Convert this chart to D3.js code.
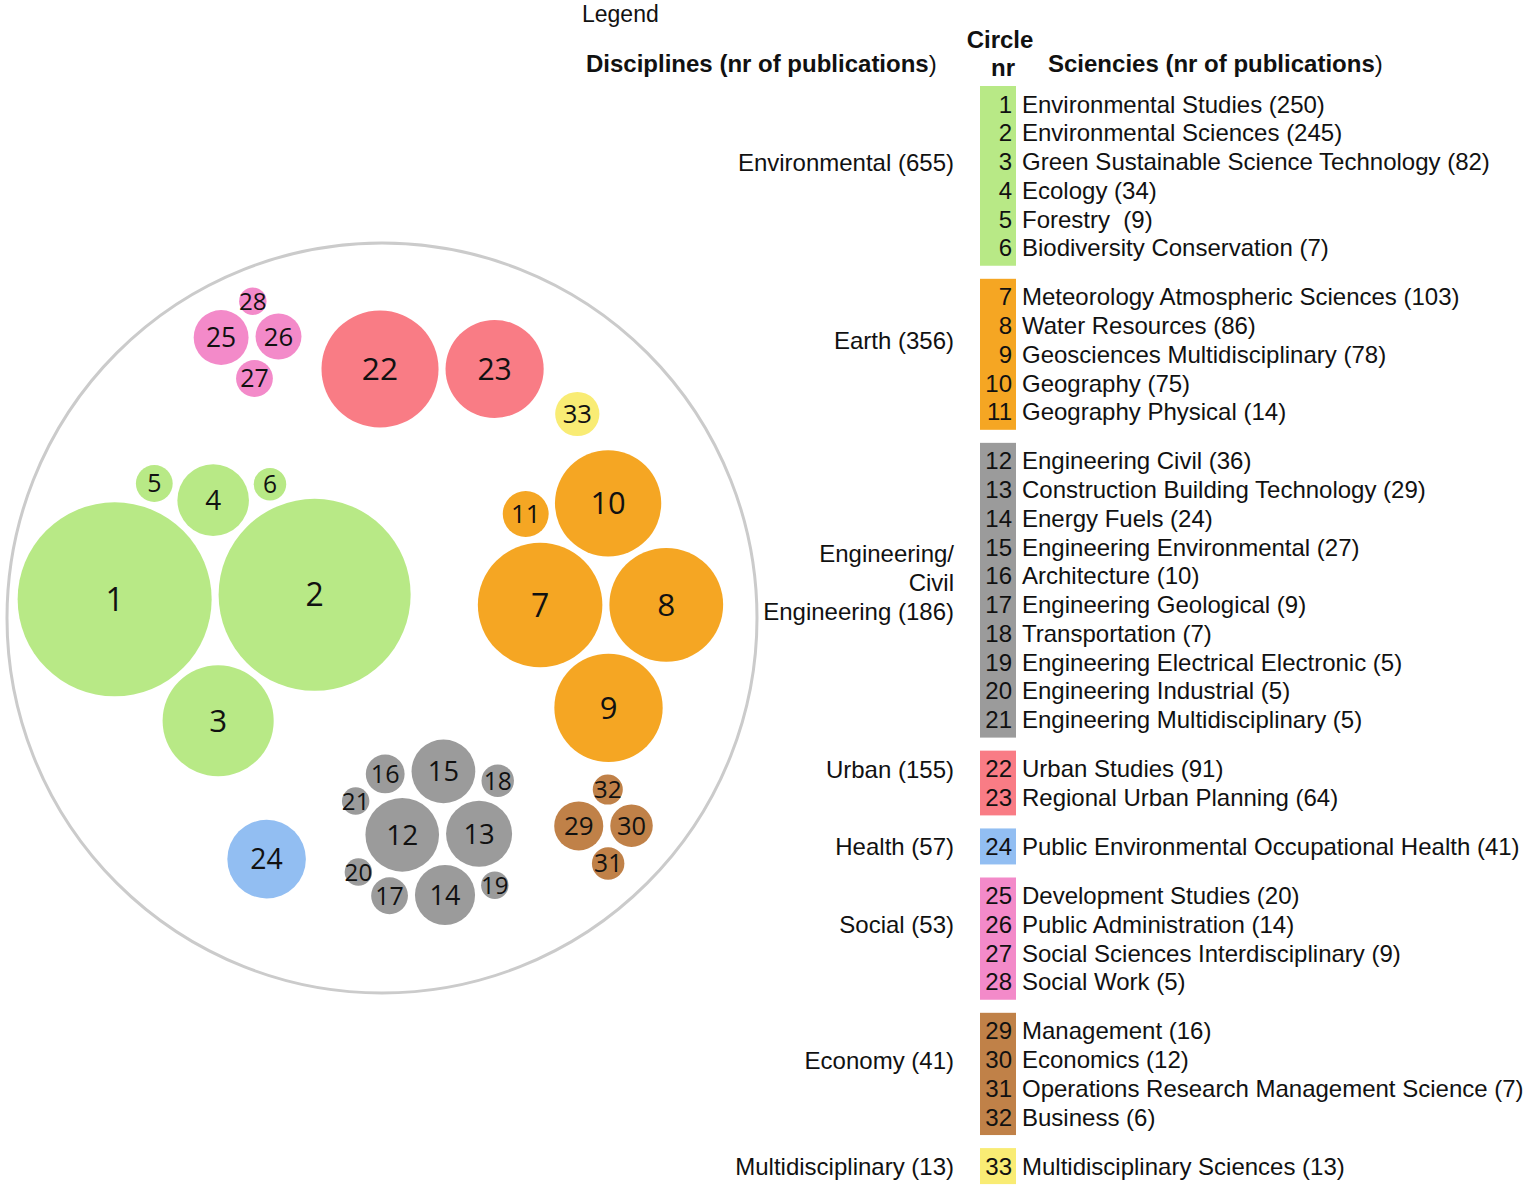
<!DOCTYPE html>
<html>
<head>
<meta charset="utf-8">
<script src="https://cdn.jsdelivr.net/npm/d3@7"></script>
<style>
body { margin: 0; background: #fff; }
svg { display: block; }
.legend text { font-family: "Liberation Sans", Arial, sans-serif; font-size: 24px; fill: #111; }
.legend .head { font-weight: bold; }
.bubbleText { font-family: "Open Sans", sans-serif; fill: #111; text-anchor: middle; }
</style>
</head>
<body>
<svg id="chart" width="1532" height="1190"></svg>
<script>
// disciplines
const disciplines = ["Environmental", "Earth", "Engineering/\nCivil\nEngineering", "Urban", "Health", "Social", "Economy", "Multidisciplinary"];
const disciplineTotals = [655, 356, 186, 155, 57, 53, 41, 13];
const disciplineColors = ["#b8e986", "#f5a623", "#9b9b9b", "#f97c85", "#92bef2", "#f38ac9", "#c08148", "#f9ec74"];

// sciences (circle nr = index + 1)
const sciences = [
    "Environmental Studies", "Environmental Sciences", "Green Sustainable Science Technology", "Ecology", "Forestry ", "Biodiversity Conservation",
    "Meteorology Atmospheric Sciences", "Water Resources", "Geosciences Multidisciplinary", "Geography", "Geography Physical",
    "Engineering Civil", "Construction Building Technology", "Energy Fuels", "Engineering Environmental", "Architecture",
    "Engineering Geological", "Transportation", "Engineering Electrical Electronic", "Engineering Industrial", "Engineering Multidisciplinary",
    "Urban Studies", "Regional Urban Planning",
    "Public Environmental Occupational Health",
    "Development Studies", "Public Administration", "Social Sciences Interdisciplinary", "Social Work",
    "Management", "Economics", "Operations Research Management Science", "Business",
    "Multidisciplinary Sciences"
];
const scienceCounts = [250, 245, 82, 34, 9, 7, 103, 86, 78, 75, 14, 36, 29, 24, 27, 10, 9, 7, 5, 5, 5, 91, 64, 41, 20, 14, 9, 5, 16, 12, 7, 6, 13];
const scienceGroup = [0, 0, 0, 0, 0, 0, 1, 1, 1, 1, 1, 2, 2, 2, 2, 2, 2, 2, 2, 2, 2, 3, 3, 4, 5, 5, 5, 5, 6, 6, 6, 6, 7];

// layout of the bubble field: cluster anchors in unit-circle coords, how loose each cluster starts,
// and start direction of each bubble in its cluster
const clusterAnchor = [[-0.448, -0.037], [0.579, -0.043], [0.133, 0.571], [0.123, -0.664], [-0.309, 0.643], [-0.357, -0.739], [0.592, 0.557], [0.52, -0.544]];
const clusterSpread = [4, 24, 4, 4, 0, 4, 4, 0];
const seedAngle = [180, 0, 90, 270, 240, 300, 180, 0, 90, 270, 225, 180, 0, 90, 270, 232, 128, 308, 52, 158, 202, 180, 0, 0, 180, 0, 90, 270, 180, 0, 90, 270, 0];

const svg = d3.select("#chart");
const big = { cx: 382, cy: 618, r: 375 };
const ux = d3.scaleLinear().domain([-1, 1]).range([big.cx - big.r, big.cx + big.r]);
const uy = d3.scaleLinear().domain([-1, 1]).range([big.cy - big.r, big.cy + big.r]);
const rScale = d3.scaleSqrt().domain([0, 250]).range([0, 97]);
const fontScale = d3.scaleLinear().domain([13, 60]).range([24, 32]).clamp(true);

svg.append("circle")
    .attr("cx", big.cx).attr("cy", big.cy).attr("r", big.r)
    .attr("fill", "none").attr("stroke", "#cbcbcb").attr("stroke-width", 3);

const nodes = sciences.map((name, i) => ({ id: i + 1, name: name, value: scienceCounts[i], g: scienceGroup[i], r: rScale(scienceCounts[i]) }));
const clusterMaxR = disciplines.map((d, g) => d3.max(nodes.filter(n => n.g == g), n => n.r));
nodes.forEach((n, i) => {
    const a = seedAngle[i] * Math.PI / 180;
    const diag = seedAngle[i] % 90 != 0;
    const dist = diag ? clusterMaxR[n.g] + n.r + 10 : n.r + clusterSpread[n.g];
    n.ax = ux(clusterAnchor[n.g][0]);
    n.ay = uy(clusterAnchor[n.g][1]);
    n.x = n.ax + Math.cos(a) * dist;
    n.y = n.ay + Math.sin(a) * dist;
});
const sim = d3.forceSimulation(nodes)
    .force("x", d3.forceX(d => d.ax).strength(0.06))
    .force("y", d3.forceY(d => d.ay).strength(0.06))
    .force("collide", d3.forceCollide(d => d.r + 3.5).strength(1).iterations(3))
    .stop();
for (let i = 0; i < 400; i++) sim.tick();

const bubble = svg.append("g").selectAll("g")
    .data(nodes)
    .join("g");
bubble.append("circle")
    .attr("cx", d => d.x).attr("cy", d => d.y).attr("r", d => d.r)
    .attr("fill", d => disciplineColors[d.g]);
bubble.append("text")
    .classed("bubbleText", true)
    .attr("x", d => d.x).attr("y", d => d.y)
    .attr("dy", "0.36em")
    .style("font-size", d => fontScale(d.r) + "px")
    .text(d => d.id);

// legend
const lg = svg.append("g").classed("legend", true);
const rowTop = 104, rowStep = 28.75, groupGap = 20.3;
const rowY = (i) => rowTop + i * rowStep + scienceGroup[i] * groupGap;

lg.append("text").attr("x", 582).attr("y", 22).style("font-size", "23px").text("Legend");
lg.append("text").classed("head", true).attr("x", 1000).attr("y", 48).attr("text-anchor", "middle").text("Circle");
lg.append("text").classed("head", true).attr("x", 1003).attr("y", 76).attr("text-anchor", "middle").text("nr");
const h1 = lg.append("text").classed("head", true).attr("x", 586).attr("y", 72).text("Disciplines (nr of publications");
h1.append("tspan").style("font-weight", "normal").text(")");
const h2 = lg.append("text").classed("head", true).attr("x", 1048).attr("y", 72).text("Sciencies (nr of publications");
h2.append("tspan").style("font-weight", "normal").text(")");

disciplines.forEach((d, g) => {
    const idx = d3.range(sciences.length).filter(i => scienceGroup[i] == g);
    const y0 = rowY(idx[0]), y1 = rowY(idx[idx.length - 1]);
    lg.append("rect")
        .attr("x", 980).attr("y", y0 - 18)
        .attr("width", 36).attr("height", y1 - y0 + 36)
        .attr("fill", disciplineColors[g]);
    const lines = d.split("\n");
    lines[lines.length - 1] += " (" + disciplineTotals[g] + ")";
    const mid = (y0 + y1) / 2 - (idx.length > 1 ? 14 : 0) + (lines.length > 1 ? 6 : 0);
    const t = lg.append("text").attr("text-anchor", "end");
    lines.forEach((l, k) => {
        t.append("tspan")
            .attr("x", 954)
            .attr("y", mid + (k - (lines.length - 1) / 2) * 29)
            .attr("dy", "0.36em")
            .text(l);
    });
});

lg.selectAll("text.nr")
    .data(nodes)
    .join("text")
    .classed("nr", true)
    .attr("x", 1012).attr("y", (d, i) => rowY(i)).attr("dy", "0.36em")
    .attr("text-anchor", "end")
    .text(d => d.id);
lg.selectAll("text.sci")
    .data(nodes)
    .join("text")
    .classed("sci", true)
    .attr("x", 1022).attr("y", (d, i) => rowY(i)).attr("dy", "0.36em")
    .style("white-space", "pre")
    .text(d => d.name + " (" + d.value + ")");
</script>
</body>
</html>
